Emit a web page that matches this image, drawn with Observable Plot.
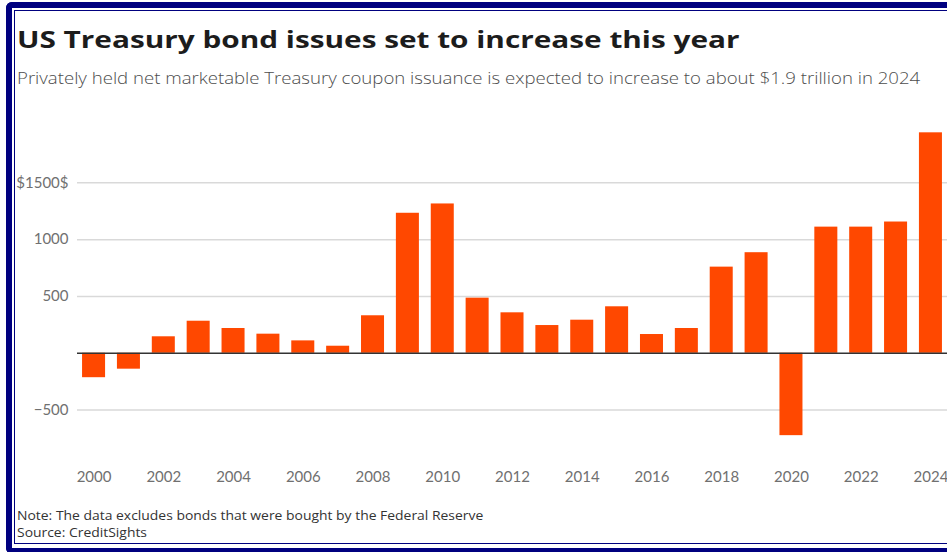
<!DOCTYPE html>
<html>
<head>
<meta charset="utf-8">
<script src="https://cdn.jsdelivr.net/npm/d3@7"></script>
<script src="https://cdn.jsdelivr.net/npm/@observablehq/plot@0.6"></script>
<style>
  html, body { margin: 0; padding: 0; background: #fff; overflow: hidden; }
  #frame { position: absolute; left: 0; top: 0; width: 947px; height: 552px; overflow: hidden; }
  .outer { position: absolute; left: 6px; top: 2px; width: 1100px; height: 540px; border: 6px solid #00007f; border-right: none; border-radius: 6px 0 0 6px; }
  .inner { position: absolute; left: 14px; top: 10px; width: 1100px; height: 532px; border: 1.5px solid #00007f; border-right: none; }
  .t { position: absolute; left: 17px; white-space: nowrap; line-height: 1; transform-origin: 0 50%; }
  #title { top: 22px; font: 700 24px "Open Sans", sans-serif; color: #1c1c1c; transform: scaleX(1.24); }
  #subtitle { top: 66.5px; font: 300 16px "Open Sans", sans-serif; color: #4d4d4d; transform: scaleX(1.162); }
  #note { top: 505.5px; font: 400 13px "Open Sans", sans-serif; color: #333; transform: scaleX(1.07); }
  #source { top: 522.5px; font: 400 13px "Open Sans", sans-serif; color: #333; transform: scaleX(1.07); }
  #chart { position: absolute; left: 0; top: 100px; }
</style>
</head>
<body>
<div id="frame">
<div class="outer"></div>
<div class="inner"></div>
<div class="t" id="title">US Treasury bond issues set to increase this year</div>
<div class="t" id="subtitle">Privately held net marketable Treasury coupon issuance is expected to increase to about $1.9 trillion in 2024</div>
<div id="chart"></div>
<div class="t" id="note">Note: The data excludes bonds that were bought by the Federal Reserve</div>
<div class="t" id="source">Source: CreditSights</div>
</div>
<script>
const years = [2000, 2001, 2002, 2003, 2004, 2005, 2006, 2007, 2008, 2009, 2010, 2011, 2012,
               2013, 2014, 2015, 2016, 2017, 2018, 2019, 2020, 2021, 2022, 2023, 2024];
const issuance = [-215, -140, 145, 282, 218, 168, 109, 62, 330, 1232, 1314, 485, 356,
                  244, 291, 409, 165, 218, 758, 885, -725, 1110, 1110, 1155, 1940];
const xTicks = [2000, 2002, 2004, 2006, 2008, 2010, 2012, 2014, 2016, 2018, 2020, 2022, 2024];
const yTicks = [-500, 500, 1000, 1500];
const yTickLabels = ["\u2212500", "500", "1000", "$1500$"];

const data = years.map((year, i) => ({year, value: issuance[i]}));

const chart = Plot.plot({
  width: 947,
  height: 400,
  marginLeft: 77,
  marginRight: 0,
  marginTop: 25.5,
  marginBottom: 33.6,
  style: {fontFamily: "Lato, sans-serif", fontSize: "15px", color: "#707070", background: "transparent"},
  x: {
    type: "band",
    domain: years,
    paddingInner: 0.34,
    paddingOuter: 0.145,
    round: false,
    ticks: xTicks,
    tickSize: 0,
    tickPadding: 4,
    tickFormat: d => String(d),
    label: null
  },
  y: {
    domain: [-1000, 2000],
    ticks: yTicks,
    tickFormat: d => yTickLabels[yTicks.indexOf(d)],
    tickSize: 0,
    tickPadding: 9,
    label: null
  },
  marks: [
    Plot.ruleY(yTicks, {stroke: "#d9d9d9", strokeWidth: 1.5}),
    Plot.barY(data, {x: "year", y: "value", fill: "#ff4800"}),
    Plot.ruleY([0], {stroke: "#333", strokeWidth: 1.5})
  ]
});
document.getElementById("chart").append(chart);
</script>
</body>
</html>
